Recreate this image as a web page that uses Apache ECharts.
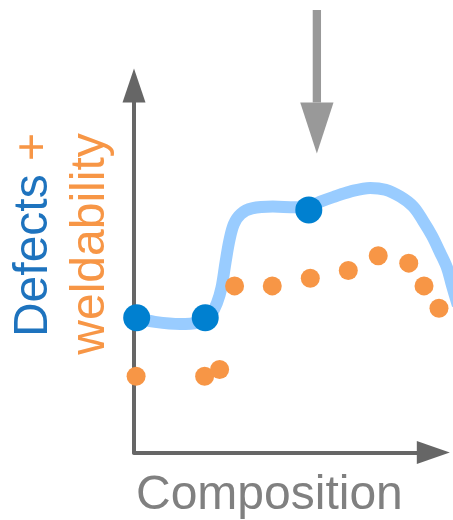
<!DOCTYPE html>
<html><head><meta charset="utf-8">
<script src="https://cdn.jsdelivr.net/npm/echarts@6/dist/echarts.min.js"></script>
<style>html,body{margin:0;padding:0;background:#fff}#c{width:453px;height:520px}</style>
</head><body><div id="c"></div>
<script>
// ---- data ----
const xLabel = 'Composition';
const yLabelLine1 = ['Defects', '+'];
const yLabelLine2 = 'weldability';
const defectCurveX = [1.0, 7.0, 15.4, 21.4, 24.1, 25.7, 27.7, 29.2, 30.6, 31.9, 33.4, 35.7, 39.4, 46.4, 53.8, 58.5, 62.1, 66.5, 72.2, 78.9, 84.0, 89.0, 93.3, 96.6, 99.6, 102.2, 104.6, 106.2, 108.2];
const defectCurveY = [36.6, 35.6, 35.0, 35.4, 36.5, 37.5, 40.7, 44.8, 51.9, 57.9, 62.3, 65.0, 66.5, 67.0, 66.8, 67.0, 68.3, 69.6, 71.1, 72.1, 71.6, 69.7, 67.0, 63.1, 59.0, 54.6, 50.3, 45.6, 40.1];
const defectPointX = [0.9, 23.8, 58.4];
const defectPointY = [36.7, 36.7, 66.1];
const weldX = [0.7, 23.6, 28.6, 33.6, 46.2, 58.9, 71.6, 81.6, 91.8, 96.9, 101.9];
const weldY = [20.8, 20.8, 22.6, 45.4, 45.4, 47.5, 49.6, 53.6, 51.6, 45.4, 39.3];
const arrowX = 61.1, arrowTopY = 120.6, arrowTipY = 81.5;
const axisMax = 100;

const zip = (a, b) => a.map((v, i) => [v, b[i]]);
const FONT = '"Liberation Sans", Arial, sans-serif';
const W = 453, L = 134, T = 85.5, B = 67.5, R = 19.7;
const plotW = W - L - R;
// a second, wider grid with the same scale so the curve can run to the right edge unclipped
const dataMax = axisMax * (W - L) / plotW;

const hidden = {axisLine: {show: false}, axisTick: {show: false}, axisLabel: {show: false}, splitLine: {show: false}};
const arrowAxis = (size) => ({axisLine: {show: true, symbol: ['none', 'triangle'], symbolSize: size, lineStyle: {color: '#666666', width: 4}},
  axisTick: {show: false}, axisLabel: {show: false}, splitLine: {show: false}});

const chart = echarts.init(document.getElementById('c'), null, {renderer: 'canvas'});
chart.setOption({
  animation: false,
  backgroundColor: '#ffffff',
  grid: [
    {left: L, right: 0, top: T, bottom: B},
    {left: L, right: R, top: T, bottom: B}
  ],
  xAxis: [
    Object.assign({type: 'value', min: 0, max: dataMax, gridIndex: 0}, hidden),
    Object.assign({type: 'value', min: 0, max: axisMax, gridIndex: 1}, arrowAxis([23, 33]))
  ],
  yAxis: [
    Object.assign({type: 'value', min: 0, max: 100, gridIndex: 0}, arrowAxis([23, 34])),
    Object.assign({type: 'value', min: 0, max: 100, gridIndex: 1}, hidden)
  ],
  series: [
    {type: 'line', xAxisIndex: 0, yAxisIndex: 0, data: zip(defectCurveX, defectCurveY), smooth: 0.35, showSymbol: false, clip: false, z: 1,
     lineStyle: {color: '#99CCFF', width: 12}, silent: true},
    {type: 'scatter', xAxisIndex: 0, yAxisIndex: 0, data: zip(weldX, weldY), symbolSize: 19, clip: false, z: 2,
     itemStyle: {color: '#F79646', opacity: 1}, silent: true},
    {type: 'scatter', xAxisIndex: 0, yAxisIndex: 0, data: zip(defectPointX, defectPointY), symbolSize: 27, clip: false, z: 3,
     itemStyle: {color: '#0080D0', opacity: 1}, silent: true}
  ]
});

const pTop = chart.convertToPixel({gridIndex: 0}, [arrowX, arrowTopY]);
const pTip = chart.convertToPixel({gridIndex: 0}, [arrowX, arrowTipY]);
const headLen = 51, headW = 33.3, shaftW = 8.3;
chart.setOption({
  graphic: [
    {type: 'rect', shape: {x: pTop[0] - shaftW / 2, y: pTop[1], width: shaftW, height: pTip[1] - headLen - pTop[1]}, style: {fill: '#999999'}, silent: true},
    {type: 'polygon', shape: {points: [[pTip[0] - headW / 2, pTip[1] - headLen], [pTip[0] + headW / 2, pTip[1] - headLen], [pTip[0], pTip[1]]]}, style: {fill: '#999999'}, silent: true},
    {type: 'text', x: 136, y: 495.4, silent: true,
     style: {text: xLabel, font: '48px ' + FONT, fill: '#808080', align: 'left', verticalAlign: 'middle'}},
    {type: 'text', x: 33.4, y: 235, rotation: Math.PI / 2, silent: true,
     style: {text: '{b|' + yLabelLine1[0] + '} {o|' + yLabelLine1[1] + '}', font: '48px ' + FONT, fill: '#1E73BE', align: 'center', verticalAlign: 'middle',
       rich: {b: {fill: '#1E73BE', font: '48px ' + FONT}, o: {fill: '#F79646', font: '48px ' + FONT}}}},
    {type: 'text', x: 90.4, y: 244, rotation: Math.PI / 2, silent: true,
     style: {text: yLabelLine2, font: '48px ' + FONT, fill: '#F79646', align: 'center', verticalAlign: 'middle'}}
  ]
});
</script>
</body></html>
